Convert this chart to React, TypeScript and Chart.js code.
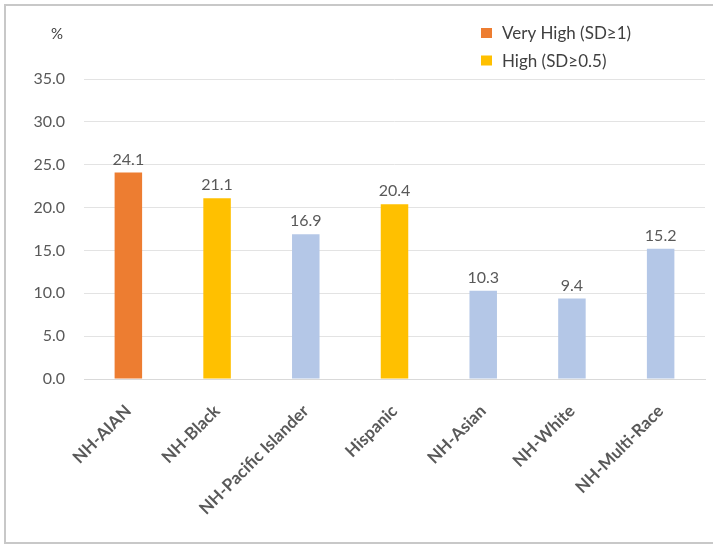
import React, { useEffect, useRef } from "react";
import { Chart, registerables } from "chart.js";

Chart.register(...registerables);

const categories = ["NH-AIAN", "NH-Black", "NH-Pacific Islander", "Hispanic", "NH-Asian", "NH-White", "NH-Multi-Race"];
const values = [24.1, 21.1, 16.9, 20.4, 10.3, 9.4, 15.2];
const levels = ["very", "high", "none", "high", "none", "none", "none"];
const yTicks = [0, 5, 10, 15, 20, 25, 30, 35];
const legendLabels = ["Very High (SD\u22651)", "High (SD\u22650.5)"];

const COLORS: Record<string, string> = { very: "#ED7D31", high: "#FFC000", none: "#B4C7E7" };
const FONT = "Lato, 'Open Sans', sans-serif";

export default function App() {
  const ref = useRef<HTMLCanvasElement | null>(null);
  useEffect(() => {
    if (!ref.current) return;
    const extras = {
      id: "extras",
      afterDatasetsDraw(chart: any) {
        const ctx = chart.ctx;
        const meta = chart.getDatasetMeta(0);
        ctx.save();
        ctx.fillStyle = "#595959";
        ctx.font = `16px ${FONT}`;
        ctx.textAlign = "center";
        ctx.textBaseline = "bottom";
        meta.data.forEach((bar: any, i: number) => {
          ctx.fillText(values[i].toFixed(1), bar.x, bar.y - 5);
        });
        // % unit
        ctx.textAlign = "center";
        ctx.textBaseline = "middle";
        ctx.font = `15px ${FONT}`;
        ctx.fillStyle = "#404040";
        ctx.fillText("%", 57, 34);
        // legend
        const items = [COLORS.very, COLORS.high];
        ctx.font = `17px ${FONT}`;
        ctx.textAlign = "left";
        items.forEach((c, i) => {
          const cy = 33 + i * 27.5;
          ctx.fillStyle = c;
          ctx.fillRect(481, cy - 5, 11, 10);
          ctx.fillStyle = "#404040";
          ctx.fillText(legendLabels[i], 502, cy + 1);
        });
        ctx.restore();
      },
    };
    const chart = new Chart(ref.current, {
      type: "bar",
      data: {
        labels: categories,
        datasets: [
          {
            data: values,
            backgroundColor: levels.map((l) => COLORS[l]),
            barPercentage: 0.31,
            categoryPercentage: 1,
          },
        ],
      },
      options: {
        animation: false,
        responsive: false,
        maintainAspectRatio: false,
        layout: { padding: { top: 79, right: 8, left: 0, bottom: 0 } },
        plugins: { legend: { display: false }, tooltip: { enabled: false } },
        scales: {
          x: {
            grid: { display: false },
            border: { display: true, color: "#D9D9D9", width: 1 },
            ticks: {
              maxRotation: 45,
              minRotation: 45,
              autoSkip: false,
              padding: 14,
              color: "#595959",
              font: { family: FONT, size: 17, weight: "bold" },
            },
            afterFit: (s: any) => {
              s.height = 544 - 379;
            },
          },
          y: {
            min: 0,
            max: 35,
            afterBuildTicks: (s: any) => {
              s.ticks = yTicks.map((v) => ({ value: v }));
            },
            grid: { color: "#E3E3E3", drawTicks: false },
            border: { display: false },
            ticks: {
              padding: 19,
              color: "#595959",
              font: { family: FONT, size: 16 },
              callback: (v: any) => Number(v).toFixed(1),
            },
            afterFit: (s: any) => {
              s.width = 84;
            },
          },
        },
      },
      plugins: [extras],
    });
    return () => chart.destroy();
  }, []);
  return (
    <div style={{ position: "fixed", left: 0, top: 0, width: 713, height: 544, background: "#fff", overflow: "hidden" }}>
      <canvas ref={ref} width={713} height={544} style={{ position: "absolute", left: 0, top: 0 }} />
      <div
        style={{
          position: "absolute",
          left: 4,
          top: 4,
          width: 720,
          height: 536,
          borderLeft: "2px solid #C8C8C8",
          borderTop: "2px solid #C8C8C8",
          borderBottom: "2px solid #C8C8C8",
          pointerEvents: "none",
        }}
      />
    </div>
  );
}
